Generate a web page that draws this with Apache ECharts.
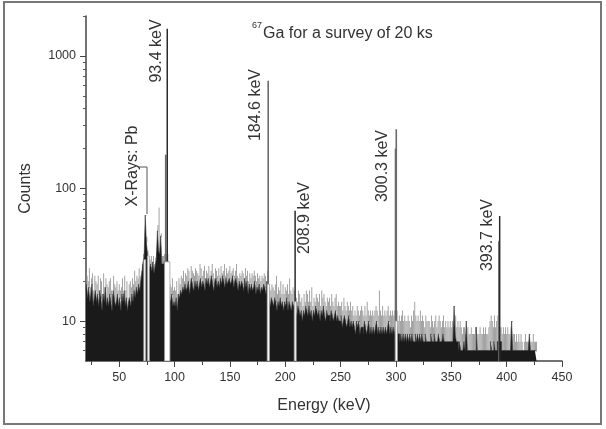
<!DOCTYPE html>
<html>
<head>
<meta charset="utf-8">
<script src="https://cdn.jsdelivr.net/npm/echarts@6/dist/echarts.min.js"></script>
<style>
  html, body { margin: 0; padding: 0; background: #fff; }
  #chart { width: 606px; height: 429px; }
</style>
</head>
<body>
<div id="chart"></div>
<script>
// 1 keV channels, first channel at 20 keV
const firstKeV = 20;

// dark body of the spectrum (counts per channel)
const darkCounts = [
  17, 19, 15, 18, 14, 16, 19, 13, 15, 17,
  14, 16, 13, 17, 15, 12, 16, 14, 18, 13,
  15, 13, 16, 14, 12, 17, 15, 13, 14, 16,
  13, 15, 12, 16, 14, 17, 13, 15, 12, 14,
  15, 13, 16, 14, 17, 15, 18, 16, 19, 17,
  20, 23, 28, 30, 63, 40, 32, 27, 25, 27,
  24, 28, 23, 26, 29, 48, 34, 32, 44, 27,
  27, 28, 28, 28, 28, 20, 15, 14, 16, 13,
  14, 13, 15, 12, 16, 15, 17, 16, 18, 17,
  19, 17, 18, 20, 16, 19, 21, 18, 17, 20,
  18, 20, 17, 19, 21, 18, 20, 19, 17, 21,
  19, 21, 18, 20, 22, 19, 17, 20, 21, 18,
  20, 18, 21, 19, 22, 20, 18, 21, 19, 20,
  21, 19, 20, 22, 18, 20, 21, 19, 17, 20,
  18, 20, 19, 17, 21, 18, 20, 16, 19, 17,
  19, 17, 18, 20, 16, 18, 17, 19, 16, 18,
  17, 19, 18, 16, 20, 18, 14, 13, 15, 14,
  13, 15, 14, 12, 14, 13, 15, 13, 14, 12,
  14, 13, 15, 12, 14, 13, 12, 14, 13, 13,
  12, 11, 13, 12, 11, 12, 10, 12, 11, 13,
  12, 11, 13, 11, 12, 10, 12, 11, 13, 12,
  11, 12, 10, 12, 11, 13, 11, 10, 12, 11,
  11, 10, 12, 11, 10, 11, 12, 10, 11, 10,
  10, 11, 9, 10, 11, 10, 9, 10, 11, 9,
  10, 9, 10, 9, 8, 10, 9, 10, 8, 9,
  9, 8, 10, 9, 8, 9, 10, 8, 9, 8,
  9, 8, 9, 10, 8, 9, 8, 9, 8, 9,
  8, 9, 8, 9, 10, 8, 9, 8, 9, 8,
  9, 10, 8, 8, 7, 8, 7, 8, 7, 8,
  7, 8, 7, 8, 7, 8, 7, 7, 8, 7,
  8, 7, 8, 7, 8, 7, 7, 8, 7, 7,
  7, 7, 8, 7, 7, 8, 7, 7, 7, 8,
  7, 7, 7, 8, 7, 7, 7, 7, 7, 7,
  7, 7, 7, 13, 8, 7, 7, 6, 7, 6,
  6, 6, 7, 6, 10, 6, 6, 6, 6, 6,
  6, 6, 6, 9, 6, 6, 6, 6, 6, 6,
  6, 6, 6, 6, 6, 6, 7, 6, 6, 7,
  6, 6, 7, 7, 7, 7, 6, 6, 6, 6,
  6, 6, 6, 6, 6, 10, 6, 6, 6, 6,
  6, 6, 6, 6, 6, 6, 6, 6, 6, 6,
  6, 8, 6, 6, 6, 6, 6, 6
];

// highest fluctuations above the body (grey fringe)
const spikeCounts = [
  24, 22, 20, 25, 18, 21, 23, 17, 22, 20,
  19, 22, 17, 21, 20, 16, 23, 18, 21, 19,
  18, 20, 21, 17, 16, 22, 19, 18, 20, 17,
  19, 17, 18, 21, 16, 22, 17, 20, 15, 19,
  20, 18, 21, 19, 24, 20, 22, 21, 25, 22,
  24, 27, 32, 34, 63, 43, 34, 30, 29, 31,
  28, 31, 27, 30, 33, 53, 72, 36, 46, 31,
  31, 32, 32, 32, 32, 24, 19, 18, 21, 17,
  18, 17, 20, 16, 21, 19, 22, 21, 24, 20,
  23, 22, 25, 24, 21, 26, 24, 23, 22, 25,
  24, 23, 22, 27, 25, 22, 24, 26, 21, 24,
  23, 26, 22, 24, 27, 23, 21, 25, 24, 22,
  25, 22, 26, 23, 24, 27, 22, 25, 23, 24,
  26, 23, 24, 25, 22, 24, 27, 22, 21, 23,
  22, 24, 23, 21, 25, 22, 24, 20, 23, 21,
  23, 22, 24, 22, 20, 23, 21, 22, 20, 22,
  21, 23, 22, 20, 24, 22, 18, 17, 19, 18,
  17, 19, 22, 16, 18, 17, 20, 16, 19, 16,
  18, 17, 19, 16, 21, 17, 16, 18, 17, 16,
  15, 14, 17, 16, 14, 15, 13, 16, 14, 17,
  16, 14, 17, 14, 18, 13, 15, 14, 16, 15,
  14, 16, 13, 17, 15, 16, 14, 13, 15, 14,
  15, 13, 16, 14, 13, 15, 16, 13, 14, 13,
  13, 14, 12, 15, 13, 12, 14, 13, 12, 14,
  12, 13, 11, 12, 11, 13, 12, 11, 12, 13,
  12, 11, 13, 11, 14, 12, 11, 12, 11, 12,
  11, 12, 13, 12, 11, 17, 12, 11, 13, 11,
  12, 11, 12, 13, 11, 12, 11, 12, 11, 12,
  11, 12, 10, 11, 10, 11, 12, 10, 11, 10,
  10, 11, 10, 9, 11, 10, 12, 14, 11, 10,
  11, 10, 12, 10, 11, 10, 9, 11, 10, 10,
  10, 9, 11, 10, 9, 10, 11, 9, 10, 11,
  10, 9, 10, 11, 9, 10, 9, 10, 9, 10,
  9, 10, 9, 13, 11, 9, 10, 9, 10, 9,
  8, 9, 9, 8, 10, 9, 8, 8, 9, 8,
  8, 8, 9, 9, 8, 8, 9, 8, 8, 9,
  8, 9, 8, 8, 9, 10, 11, 10, 9, 11,
  9, 10, 11, 9, 9, 9, 8, 9, 8, 9,
  8, 9, 8, 8, 9, 10, 8, 8, 7, 8,
  7, 8, 7, 8, 7, 6, 7, 8, 7, 7,
  7, 8, 7, 7, 8, 7, 7, 7
];

// photopeaks [keV, counts]
const peakLines = [[93.4, 1600], [208.9, 68], [393.7, 62]];
const greyPeakLines = [[92.0, 180], [184.6, 650], [300.3, 280], [299.6, 200], [393.0, 40]];
// blank channels inside the body [from keV, to keV, counts]
const gapBands = [
  [72.2, 73.9, 29], [75.5, 77.2, 31], [91.0, 95.8, 28],
  [183.7, 185.7, 19], [208.1, 209.9, 14], [299.4, 301.3, 10]
];

const peakLabels = ['93.4 keV', '184.6 keV', '208.9 keV', '300.3 keV', '393.7 keV'];
const xMajor = [50, 100, 150, 200, 250, 300, 350, 400, 450];
const xMinor = [25, 75, 125, 175, 225, 275, 325, 375, 425];
const yMajor = [10, 100, 1000];
const yMinor = [6, 7, 8, 9, 20, 30, 40, 50, 60, 70, 80, 90,
  200, 300, 400, 500, 600, 700, 800, 900, 2000];

const font = 'Liberation Sans, Arial, sans-serif';
const ink = '#333';

const darkData = darkCounts.map((v, i) => [firstKeV + i, v]);
const spikeData = spikeCounts.map((v, i) => [firstKeV + i, v, darkCounts[i]]);

function lineRender(color, w) {
  return function (params, api) {
    const top = api.coord([api.value(0), api.value(1)]);
    const bottom = api.coord([api.value(0), 5]);
    return {
      type: 'rect',
      shape: { x: top[0] - w / 2, y: top[1], width: w, height: bottom[1] - top[1] },
      style: { fill: color }
    };
  };
}

const chart = echarts.init(document.getElementById('chart'));
chart.setOption({
  animation: false,
  backgroundColor: '#fff',
  textStyle: { fontFamily: font },
  grid: { left: 86, right: 44, top: 16, bottom: 68 },
  xAxis: [{
    type: 'value', min: 20, max: 450,
    name: 'Energy (keV)', nameLocation: 'middle', nameGap: 37,
    nameTextStyle: { fontSize: 16, color: ink, fontFamily: font },
    axisLine: { lineStyle: { color: '#444', width: 1.5 } },
    axisTick: { customValues: xMajor, length: 6, lineStyle: { color: '#444' } },
    axisLabel: { customValues: xMajor, fontSize: 12.5, color: ink, margin: 10, fontFamily: font },
    splitLine: { show: false }
  }, {
    type: 'value', min: 20, max: 450, position: 'bottom',
    axisLine: { show: false },
    axisTick: { customValues: xMinor, length: 4, lineStyle: { color: '#444' } },
    axisLabel: { show: false },
    splitLine: { show: false }
  }],
  yAxis: [{
    type: 'log', logBase: 10, min: 5, max: 2000, position: 'left',
    name: 'Counts', nameLocation: 'middle', nameGap: 52, nameRotate: 90,
    nameTextStyle: { fontSize: 16, color: ink, fontFamily: font },
    axisLine: { show: true, lineStyle: { color: '#444', width: 1.5 } },
    axisTick: { customValues: yMajor, length: 6, lineStyle: { color: '#444' } },
    axisLabel: { customValues: yMajor, fontSize: 12.5, color: ink, margin: 10, fontFamily: font,
      formatter: v => String(Math.round(v)) },
    splitLine: { show: false }
  }, {
    type: 'log', logBase: 10, min: 5, max: 2000, position: 'left',
    axisLine: { show: false },
    axisTick: { customValues: yMinor, length: 3, lineStyle: { color: '#555' } },
    axisLabel: { show: false },
    splitLine: { show: false }
  }],
  series: [{
    name: 'spikes', type: 'custom', data: spikeData, clip: true, z: 2,
    renderItem: function (params, api) {
      const top = api.coord([api.value(0), api.value(1)]);
      const base = api.coord([api.value(0), api.value(2)]);
      return {
        type: 'rect',
        shape: { x: top[0] - 0.4, y: top[1], width: 0.8, height: base[1] - top[1] + 1 },
        style: { fill: '#8c8c8c' }
      };
    }
  }, {
    name: 'counts', type: 'line', step: 'middle', data: darkData, z: 3,
    symbol: 'none', silent: true,
    lineStyle: { width: 0.6, color: '#333' },
    areaStyle: { color: '#1a1a1a', opacity: 1, origin: 'start' }
  }, {
    name: 'grey peaks', type: 'custom', data: greyPeakLines, clip: true, z: 4,
    renderItem: lineRender('#6a6a6a', 1.6)
  }, {
    name: 'peaks', type: 'custom', data: peakLines, clip: true, z: 4,
    renderItem: lineRender('#2a2a2a', 1.5)
  }, {
    name: 'gaps', type: 'custom', data: gapBands, clip: true, z: 5,
    encode: { x: [0, 1], y: 2 },
    renderItem: function (params, api) {
      const a = api.coord([api.value(0), api.value(2)]);
      const b = api.coord([api.value(1), 5]);
      return {
        type: 'rect',
        shape: { x: a[0], y: a[1], width: b[0] - a[0], height: b[1] - a[1] },
        style: { fill: '#fff', stroke: '#a0a0a0', lineWidth: 0.8 }
      };
    }
  }],
  graphic: [
    { type: 'rect', shape: { x: 4, y: 2, width: 597, height: 422 },
      style: { fill: 'none', stroke: '#777', lineWidth: 2 }, silent: true },
    { type: 'text', x: 257, y: 26, style: { text: '67', fill: ink, font: '9px ' + font, align: 'center', verticalAlign: 'middle' } },
    { type: 'text', x: 263, y: 34, style: { text: 'Ga for a survey of 20 ks', fill: ink, font: '16px ' + font, align: 'left', verticalAlign: 'middle' } },
    { type: 'text', x: 157, y: 51, rotation: Math.PI / 2, style: { text: peakLabels[0], fill: ink, font: '16px ' + font, align: 'center', verticalAlign: 'middle' } },
    { type: 'text', x: 256, y: 105, rotation: Math.PI / 2, style: { text: peakLabels[1], fill: ink, font: '16px ' + font, align: 'center', verticalAlign: 'middle' } },
    { type: 'text', x: 305, y: 218, rotation: Math.PI / 2, style: { text: peakLabels[2], fill: ink, font: '16px ' + font, align: 'center', verticalAlign: 'middle' } },
    { type: 'text', x: 383, y: 166, rotation: Math.PI / 2, style: { text: peakLabels[3], fill: ink, font: '16px ' + font, align: 'center', verticalAlign: 'middle' } },
    { type: 'text', x: 488, y: 235, rotation: Math.PI / 2, style: { text: peakLabels[4], fill: ink, font: '16px ' + font, align: 'center', verticalAlign: 'middle' } },
    { type: 'text', x: 133, y: 166, rotation: Math.PI / 2, style: { text: 'X-Rays: Pb', fill: ink, font: '16px ' + font, align: 'center', verticalAlign: 'middle' } },
    { type: 'polyline', shape: { points: [[139, 167], [147, 167], [147, 214]] },
      style: { stroke: '#555', lineWidth: 1, fill: 'none' } }
  ]
});
</script>
</body>
</html>
